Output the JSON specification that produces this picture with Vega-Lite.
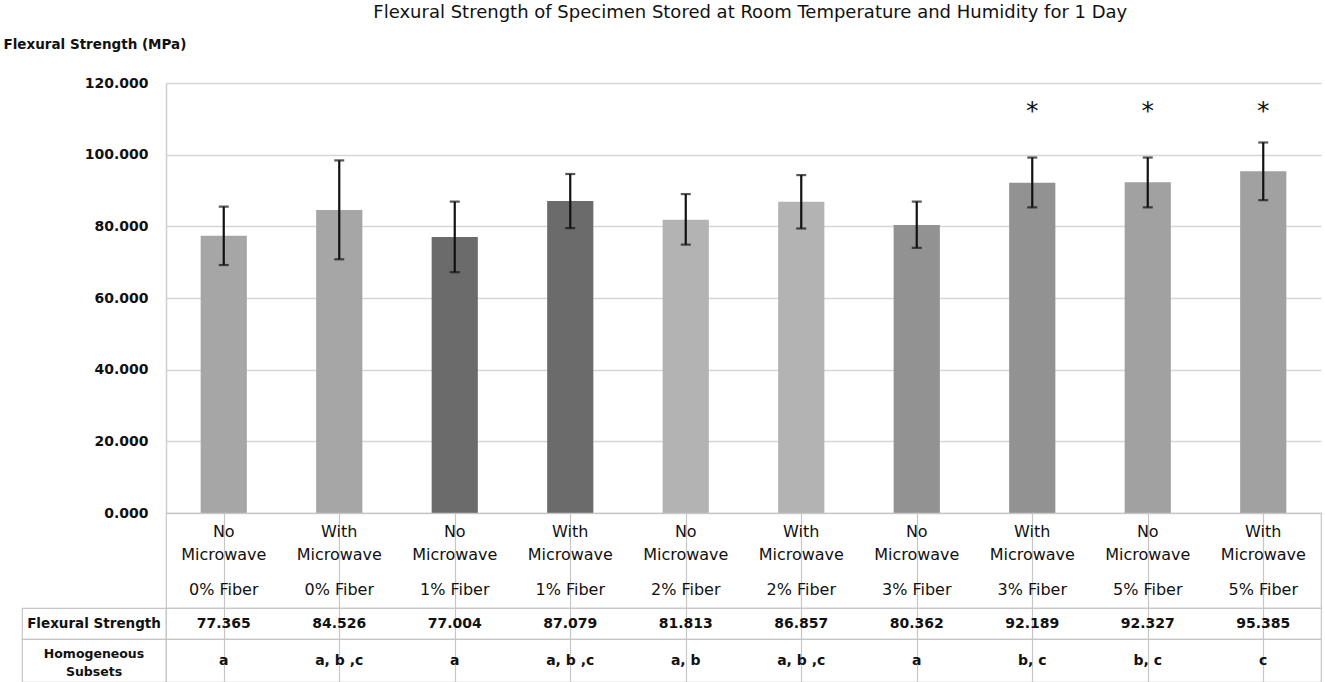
{
  "$schema": "https://vega.github.io/schema/vega-lite/v6.json",
  "background": "white",
  "padding": {"left": 3, "top": 4, "right": 3, "bottom": 0},
  "bounds": "flush",
  "spacing": 0,
  "columns": 2,
  "title": {"text": "Flexural Strength of Specimen Stored at Room Temperature and Humidity for 1 Day", "font": "DejaVu Sans", "fontSize": 18, "fontWeight": "normal", "color": "#111111", "anchor": "middle", "dx": 88, "offset": 15},
  "config": {
    "font": "DejaVu Sans",
    "view": {"stroke": "#c6c6c6", "strokeWidth": 1.2},
    "axis": {"labelColor": "#111111", "titleColor": "#111111"}
  },
  "data": {"values": [
    {"label": "No Microwave 0% Fiber", "mw": "No Microwave", "fiber": "0% Fiber", "fs": 77.365, "lo": 69.2, "hi": 85.5, "hs": "a", "star": ""},
    {"label": "With Microwave 0% Fiber", "mw": "With Microwave", "fiber": "0% Fiber", "fs": 84.526, "lo": 70.8, "hi": 98.4, "hs": "a, b ,c", "star": ""},
    {"label": "No Microwave 1% Fiber", "mw": "No Microwave", "fiber": "1% Fiber", "fs": 77.004, "lo": 67.2, "hi": 86.9, "hs": "a", "star": ""},
    {"label": "With Microwave 1% Fiber", "mw": "With Microwave", "fiber": "1% Fiber", "fs": 87.079, "lo": 79.5, "hi": 94.6, "hs": "a, b ,c", "star": ""},
    {"label": "No Microwave 2% Fiber", "mw": "No Microwave", "fiber": "2% Fiber", "fs": 81.813, "lo": 74.9, "hi": 89.0, "hs": "a, b", "star": ""},
    {"label": "With Microwave 2% Fiber", "mw": "With Microwave", "fiber": "2% Fiber", "fs": 86.857, "lo": 79.4, "hi": 94.3, "hs": "a, b ,c", "star": ""},
    {"label": "No Microwave 3% Fiber", "mw": "No Microwave", "fiber": "3% Fiber", "fs": 80.362, "lo": 74.0, "hi": 86.9, "hs": "a", "star": ""},
    {"label": "With Microwave 3% Fiber", "mw": "With Microwave", "fiber": "3% Fiber", "fs": 92.189, "lo": 85.3, "hi": 99.2, "hs": "b, c", "star": "*"},
    {"label": "No Microwave 5% Fiber", "mw": "No Microwave", "fiber": "5% Fiber", "fs": 92.327, "lo": 85.3, "hi": 99.2, "hs": "b, c", "star": "*"},
    {"label": "With Microwave 5% Fiber", "mw": "With Microwave", "fiber": "5% Fiber", "fs": 95.385, "lo": 87.3, "hi": 103.4, "hs": "c", "star": "*"}
  ]},
  "concat": [
    {
      "width": 144, "height": 430,
      "view": {"stroke": null},
      "data": {"values": [{"t": ""}]},
      "mark": {"type": "text"},
      "encoding": {"text": {"field": "t"}}
    },
    {
      "width": 1155,
      "height": 430,
      "view": {"stroke": null},
      "encoding": {
        "x": {"field": "label", "type": "nominal", "sort": null, "scale": {"paddingInner": 0.6, "paddingOuter": 0.3}, "axis": null}
      },
      "layer": [
        {
          "mark": {"type": "bar"},
          "encoding": {
            "y": {"field": "fs", "type": "quantitative", "scale": {"domain": [0, 120], "nice": false},
              "axis": {"values": [0, 20, 40, 60, 80, 100, 120], "format": ".3f", "labelFont": "DejaVu Sans", "labelFontSize": 14, "labelFontWeight": "bold", "labelPadding": 18, "ticks": false, "domainColor": "#d0d0d0", "domainWidth": 1.5, "gridColor": "#d6d6d6", "gridWidth": 1.5,
                "title": "Flexural Strength (MPa)", "titleFont": "DejaVu Sans", "titleFontSize": 13.5, "titleFontWeight": "bold", "titleAngle": 0, "titleAlign": "left", "titleBaseline": "middle", "titleX": -163, "titleY": -39}},
            "color": {"field": "fiber", "type": "nominal", "legend": null,
              "scale": {"domain": ["0% Fiber", "1% Fiber", "2% Fiber", "3% Fiber", "5% Fiber"], "range": ["#a6a6a6", "#6b6b6b", "#b3b3b3", "#929292", "#a1a1a1"]}}
          }
        },
        {
          "mark": {"type": "rule", "color": "#111111", "strokeWidth": 2.2},
          "encoding": {"y": {"field": "lo", "type": "quantitative"}, "y2": {"field": "hi"}}
        },
        {
          "mark": {"type": "tick", "color": "#111111", "thickness": 2.2, "size": 10, "orient": "horizontal"},
          "encoding": {"y": {"field": "lo", "type": "quantitative"}}
        },
        {
          "mark": {"type": "tick", "color": "#111111", "thickness": 2.2, "size": 10, "orient": "horizontal"},
          "encoding": {"y": {"field": "hi", "type": "quantitative"}}
        },
        {
          "mark": {"type": "text", "font": "DejaVu Sans", "fontSize": 25, "color": "#111111", "baseline": "middle", "dy": 2},
          "encoding": {"y": {"datum": 112.7, "type": "quantitative"}, "text": {"field": "star"}}
        }
      ]
    },
    {
      "width": 144, "height": 95,
      "view": {"stroke": null},
      "data": {"values": [{"t": ""}]},
      "mark": {"type": "text"},
      "encoding": {"text": {"field": "t"}}
    },
    {
      "width": 1155,
      "height": 95,
      "encoding": {
        "x": {"field": "label", "type": "nominal", "sort": null, "scale": {"paddingInner": 0, "paddingOuter": 0},
          "axis": {"labels": false, "ticks": false, "domain": false, "grid": true, "bandPosition": 0, "gridColor": "#c6c6c6", "gridWidth": 1.2, "title": null}}
      },
      "layer": [
        {
          "mark": {"type": "text", "font": "DejaVu Sans", "fontSize": 16, "color": "#111111", "lineBreak": " ", "lineHeight": 23, "baseline": "middle", "dy": -29},
          "encoding": {"text": {"field": "mw"}}
        },
        {
          "mark": {"type": "text", "font": "DejaVu Sans", "fontSize": 16, "color": "#111111", "baseline": "middle", "dy": 29},
          "encoding": {"text": {"field": "fiber"}}
        }
      ]
    },
    {
      "width": 144, "height": 31,
      "data": {"values": [{"t": "Flexural Strength"}]},
      "mark": {"type": "text", "font": "DejaVu Sans", "fontSize": 13.5, "fontWeight": "bold", "color": "#111111", "baseline": "middle"},
      "encoding": {
        "x": {"field": "t", "type": "nominal", "scale": {"paddingInner": 0, "paddingOuter": 0}, "axis": null},
        "y": {"field": "t", "type": "nominal", "scale": {"paddingInner": 0, "paddingOuter": 0}, "axis": null},
        "text": {"field": "t"}
      }
    },
    {
      "width": 1155,
      "height": 31,
      "encoding": {
        "x": {"field": "label", "type": "nominal", "sort": null, "scale": {"paddingInner": 0, "paddingOuter": 0},
          "axis": {"labels": false, "ticks": false, "domain": false, "grid": true, "bandPosition": 0, "gridColor": "#c6c6c6", "gridWidth": 1.2, "title": null}},
        "text": {"field": "fs", "type": "quantitative", "format": ".3f"}
      },
      "mark": {"type": "text", "font": "DejaVu Sans", "fontSize": 14, "fontWeight": "bold", "color": "#111111", "baseline": "middle"}
    },
    {
      "width": 144, "height": 43,
      "data": {"values": [{"t": "Homogeneous Subsets"}]},
      "mark": {"type": "text", "font": "DejaVu Sans", "fontSize": 12.5, "fontWeight": "bold", "color": "#111111", "baseline": "middle", "lineBreak": " ", "lineHeight": 18, "dy": -7},
      "encoding": {
        "x": {"field": "t", "type": "nominal", "scale": {"paddingInner": 0, "paddingOuter": 0}, "axis": null},
        "y": {"field": "t", "type": "nominal", "scale": {"paddingInner": 0, "paddingOuter": 0}, "axis": null},
        "text": {"field": "t"}
      }
    },
    {
      "width": 1155,
      "height": 43,
      "encoding": {
        "x": {"field": "label", "type": "nominal", "sort": null, "scale": {"paddingInner": 0, "paddingOuter": 0},
          "axis": {"labels": false, "ticks": false, "domain": false, "grid": true, "bandPosition": 0, "gridColor": "#c6c6c6", "gridWidth": 1.2, "title": null}},
        "text": {"field": "hs"}
      },
      "mark": {"type": "text", "font": "DejaVu Sans", "fontSize": 14, "fontWeight": "bold", "color": "#111111", "baseline": "middle"}
    }
  ]
}
